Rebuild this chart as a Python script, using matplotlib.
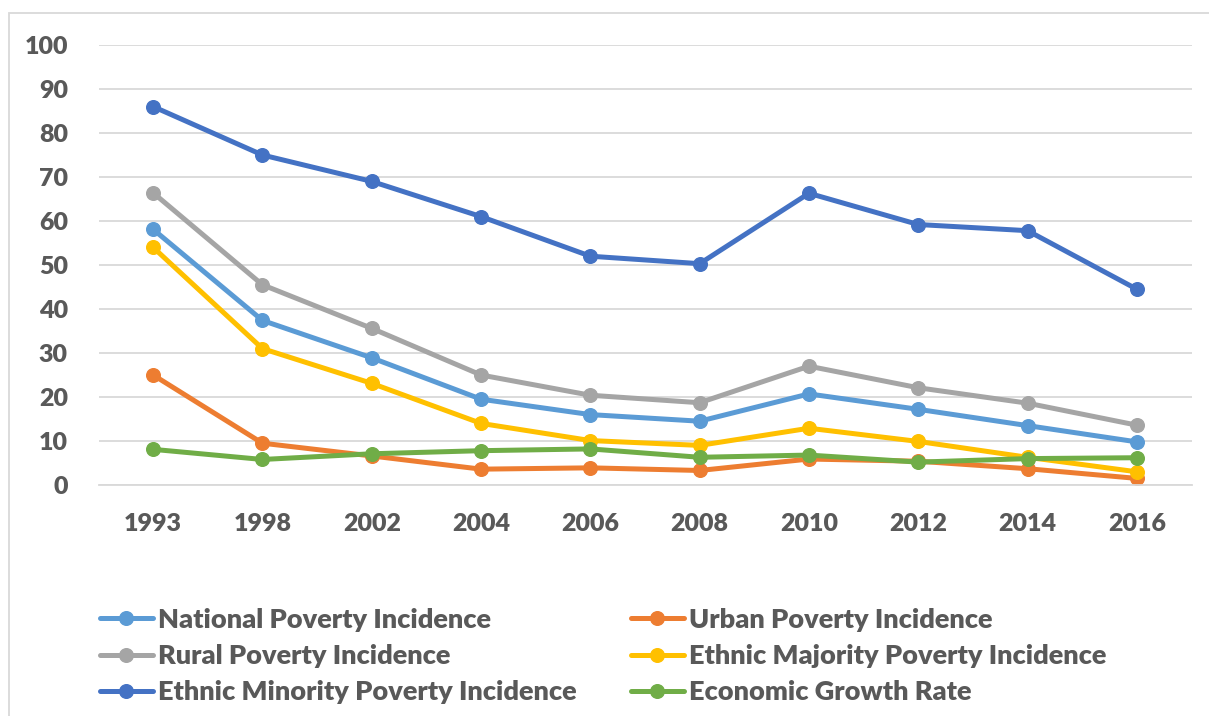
import matplotlib.pyplot as plt
from matplotlib.patches import Rectangle

years = ['1993', '1998', '2002', '2004', '2006', '2008', '2010', '2012', '2014', '2016']

national = [58.1, 37.4, 28.9, 19.5, 16.0, 14.5, 20.7, 17.2, 13.5, 9.8]
urban = [25.0, 9.5, 6.6, 3.6, 3.9, 3.3, 5.9, 5.4, 3.7, 1.5]
rural = [66.4, 45.5, 35.6, 25.0, 20.4, 18.7, 27.0, 22.1, 18.6, 13.6]
majority = [54.0, 31.0, 23.1, 14.0, 10.1, 9.0, 12.9, 9.9, 6.3, 3.0]
minority = [86.0, 75.0, 69.0, 61.0, 52.0, 50.3, 66.3, 59.2, 57.8, 44.5]
growth = [8.1, 5.8, 7.1, 7.8, 8.2, 6.3, 6.8, 5.2, 6.0, 6.2]

series = [
    ('National Poverty Incidence', national, '#5B9BD5'),
    ('Urban Poverty Incidence', urban, '#ED7D31'),
    ('Rural Poverty Incidence', rural, '#A5A5A5'),
    ('Ethnic Majority Poverty Incidence', majority, '#FFC000'),
    ('Ethnic Minority Poverty Incidence', minority, '#4472C4'),
    ('Economic Growth Rate', growth, '#70AD47'),
]

plt.rcParams['font.family'] = ['Lato', 'DejaVu Sans']
plt.rcParams['font.weight'] = 'heavy'
text_color = '#595959'
grid_color = '#D9D9D9'

W, H = 1209, 716
fig = plt.figure(figsize=(W / 100, H / 100), dpi=100)
ax = fig.add_axes([98.5 / W, (H - 485) / H, 1093 / W, 440 / H])

x = list(range(len(years)))
handles = {}
for name, vals, col in series:
    h, = ax.plot(x, vals, color=col, lw=3.6, marker='o', ms=9.8,
                 solid_capstyle='round', label=name)
    handles[name] = h

ax.set_xlim(-0.5, len(years) - 0.5)
ax.set_ylim(0, 100)
ax.set_yticks(range(0, 101, 10))
ax.set_xticks(x)
ax.set_xticklabels(years)
ax.grid(axis='y', color=grid_color, lw=1.3)
ax.set_axisbelow(True)
for s in ['top', 'right', 'left']:
    ax.spines[s].set_visible(False)
ax.spines['bottom'].set_color(grid_color)
ax.spines['bottom'].set_linewidth(1.3)
ax.tick_params(length=0, labelsize=18, labelcolor=text_color)
ax.tick_params(axis='y', pad=22)
ax.tick_params(axis='x', pad=20)

# legend, row-major order like the original
order = ['National Poverty Incidence', 'Rural Poverty Incidence',
         'Ethnic Minority Poverty Incidence', 'Urban Poverty Incidence',
         'Ethnic Majority Poverty Incidence', 'Economic Growth Rate']
leg = fig.legend([handles[n] for n in order], order, ncol=2,
                 loc='center left', bbox_to_anchor=(100 / W, (H - 656) / H),
                 frameon=False, fontsize=19.5, borderpad=0, borderaxespad=0,
                 handlelength=1.95, handletextpad=0.2, labelspacing=0.45,
                 columnspacing=2.0)
for t in leg.get_texts():
    t.set_color(text_color)

# chart area border
fig.patches.append(Rectangle((9 / W, -0.1), 1.2, (H - 13) / H + 0.1,
                             transform=fig.transFigure, fill=False,
                             edgecolor=grid_color, lw=1.3))

fig.savefig('out.png', dpi=100)
